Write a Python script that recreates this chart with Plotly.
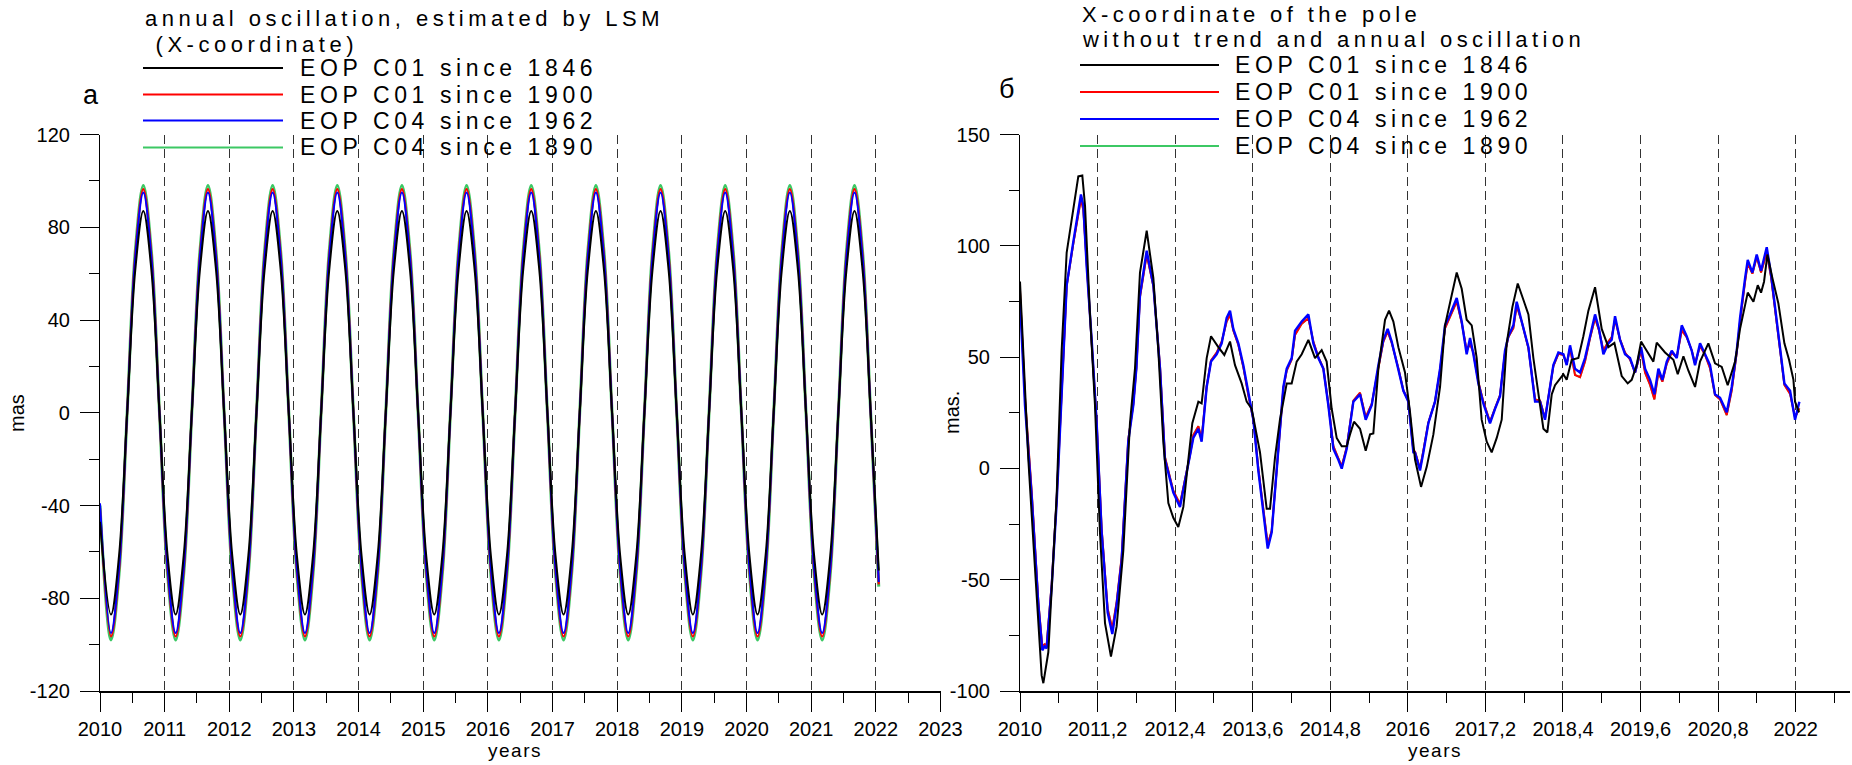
import plotly.graph_objects as go

W, H = 1852, 765

# ---------------- panel (а): annual oscillation, LSM fit ----------------
# sample times: start of 2010, then every 1/8 year starting at first trough
t_annual = [2010.0] + [round(2010.17 + 0.125 * k, 3) for k in range(96)]

annual_c01_1846 = [
    -47,
    -87, -61.5, 0, 61.5, 87, 61.5, 0, -61.5,
    -87, -61.5, 0, 61.5, 87, 61.5, 0, -61.5,
    -87, -61.5, 0, 61.5, 87, 61.5, 0, -61.5,
    -87, -61.5, 0, 61.5, 87, 61.5, 0, -61.5,
    -87, -61.5, 0, 61.5, 87, 61.5, 0, -61.5,
    -87, -61.5, 0, 61.5, 87, 61.5, 0, -61.5,
    -87, -61.5, 0, 61.5, 87, 61.5, 0, -61.5,
    -87, -61.5, 0, 61.5, 87, 61.5, 0, -61.5,
    -87, -61.5, 0, 61.5, 87, 61.5, 0, -61.5,
    -87, -61.5, 0, 61.5, 87, 61.5, 0, -61.5,
    -87, -61.5, 0, 61.5, 87, 61.5, 0, -61.5,
    -87, -61.5, 0, 61.5, 87, 61.5, 0, -68,
]
annual_c01_1900 = [
    -41,
    -96.5, -68, 0, 68, 96.5, 68, 0, -68,
    -96.5, -68, 0, 68, 96.5, 68, 0, -68,
    -96.5, -68, 0, 68, 96.5, 68, 0, -68,
    -96.5, -68, 0, 68, 96.5, 68, 0, -68,
    -96.5, -68, 0, 68, 96.5, 68, 0, -68,
    -96.5, -68, 0, 68, 96.5, 68, 0, -68,
    -96.5, -68, 0, 68, 96.5, 68, 0, -68,
    -96.5, -68, 0, 68, 96.5, 68, 0, -68,
    -96.5, -68, 0, 68, 96.5, 68, 0, -68,
    -96.5, -68, 0, 68, 96.5, 68, 0, -68,
    -96.5, -68, 0, 68, 96.5, 68, 0, -68,
    -96.5, -68, 0, 68, 96.5, 68, 0, -74,
]
annual_c04_1962 = [
    -39,
    -95, -67, 0, 67, 95, 67, 0, -67,
    -95, -67, 0, 67, 95, 67, 0, -67,
    -95, -67, 0, 67, 95, 67, 0, -67,
    -95, -67, 0, 67, 95, 67, 0, -67,
    -95, -67, 0, 67, 95, 67, 0, -67,
    -95, -67, 0, 67, 95, 67, 0, -67,
    -95, -67, 0, 67, 95, 67, 0, -67,
    -95, -67, 0, 67, 95, 67, 0, -67,
    -95, -67, 0, 67, 95, 67, 0, -67,
    -95, -67, 0, 67, 95, 67, 0, -67,
    -95, -67, 0, 67, 95, 67, 0, -67,
    -95, -67, 0, 67, 95, 67, 0, -73,
]
annual_c04_1890 = [
    -40,
    -98, -69.5, 0, 69.5, 98, 69.5, 0, -69.5,
    -98, -69.5, 0, 69.5, 98, 69.5, 0, -69.5,
    -98, -69.5, 0, 69.5, 98, 69.5, 0, -69.5,
    -98, -69.5, 0, 69.5, 98, 69.5, 0, -69.5,
    -98, -69.5, 0, 69.5, 98, 69.5, 0, -69.5,
    -98, -69.5, 0, 69.5, 98, 69.5, 0, -69.5,
    -98, -69.5, 0, 69.5, 98, 69.5, 0, -69.5,
    -98, -69.5, 0, 69.5, 98, 69.5, 0, -69.5,
    -98, -69.5, 0, 69.5, 98, 69.5, 0, -69.5,
    -98, -69.5, 0, 69.5, 98, 69.5, 0, -69.5,
    -98, -69.5, 0, 69.5, 98, 69.5, 0, -69.5,
    -98, -69.5, 0, 69.5, 98, 69.5, 0, -75,
]

# ---------------- panel (б): residual X-coordinate ----------------
t_res_c01_1846 = [
    2010.0, 2010.129, 2010.232, 2010.335, 2010.361, 2010.438, 2010.567, 2010.644, 2010.722, 2010.81,
    2010.902, 2010.964, 2011.006, 2011.083, 2011.16, 2011.237, 2011.315, 2011.407, 2011.495, 2011.598,
    2011.701, 2011.779, 2011.856, 2011.96, 2012.063, 2012.14, 2012.217, 2012.295, 2012.372, 2012.449,
    2012.527, 2012.604, 2012.666, 2012.759, 2012.81, 2012.888, 2012.955, 2013.068, 2013.161, 2013.249,
    2013.326, 2013.429, 2013.507, 2013.584, 2013.713, 2013.816, 2013.868, 2013.945, 2014.022, 2014.126,
    2014.203, 2014.28, 2014.358, 2014.461, 2014.564, 2014.667, 2014.744, 2014.822, 2014.899, 2014.977,
    2015.054, 2015.105, 2015.167, 2015.26, 2015.348, 2015.415, 2015.466, 2015.544, 2015.647, 2015.709,
    2015.776, 2015.853, 2015.956, 2016.034, 2016.111, 2016.204, 2016.292, 2016.395, 2016.498, 2016.575,
    2016.678, 2016.756, 2016.833, 2016.91, 2016.988, 2017.065, 2017.142, 2017.22, 2017.297, 2017.375,
    2017.452, 2017.529, 2017.617, 2017.7, 2017.787, 2017.865, 2017.942, 2018.019, 2018.097, 2018.158,
    2018.226, 2018.277, 2018.406, 2018.457, 2018.535, 2018.638, 2018.715, 2018.793, 2018.896, 2018.999,
    2019.102, 2019.195, 2019.308, 2019.401, 2019.463, 2019.54, 2019.608, 2019.695, 2019.798, 2019.85,
    2019.979, 2020.108, 2020.175, 2020.263, 2020.34, 2020.443, 2020.52, 2020.649, 2020.752, 2020.856,
    2020.948, 2021.062, 2021.139, 2021.258, 2021.346, 2021.413, 2021.464, 2021.51, 2021.562, 2021.64,
    2021.732, 2021.825, 2021.897, 2021.965, 2021.99, 2022.052,
]
res_c01_1846 = [
    84, 4, -45, -93, -96.5, -82.6, -12.4, 52.9, 97, 113,
    131.2, 131.6, 118, 69.2, 28.4, -28.7, -69.5, -84.5, -71, -36.9,
    20.3, 45, 88, 106.8, 85.5, 52.9, 12, -15.6, -22.2, -26.3,
    -17.3, 3.9, 20.3, 30, 29.2, 49.6, 59.4, 54.5, 51, 57,
    46.4, 38.2, 30, 26.8, 7.2, -18.1, -18.1, 5, 22, 38.2,
    38.2, 48, 51.3, 57.8, 49.6, 53.2, 48, 26.8, 13.7, 10,
    10, 15.3, 21, 17.8, 8, 15.3, 15.7, 44.8, 66.8, 70.9,
    66, 54.5, 43.1, 25.2, 4, -8.3, 0.7, 15.3, 36.6, 64.3,
    77.4, 88, 80.7, 66.8, 64.3, 49.6, 21.9, 12, 7.2, 13.7,
    21.9, 56.2, 72.5, 83.1, 75.8, 69.2, 49.6, 33.3, 17.8, 16.2,
    33.3, 37.4, 42.3, 39.8, 48.8, 49.6, 59.4, 70.9, 81.4, 62.7,
    54.5, 56.4, 41.5, 38.2, 39.8, 46.4, 57, 52.9, 48, 56.5,
    52.1, 48.8, 42.3, 50.4, 43.9, 36.6, 48, 56.2, 47.2, 45.6,
    37.4, 48, 62.7, 79, 74.9, 82.3, 79, 83.9, 96.1, 85.5,
    74.1, 56.2, 48.8, 39.8, 30, 25.2,
]

t_res_c04 = [
    2010.0, 2010.077, 2010.18, 2010.284, 2010.345, 2010.38, 2010.412, 2010.49, 2010.567, 2010.644,
    2010.722, 2010.825, 2010.902, 2010.943, 2010.98, 2011.032, 2011.109, 2011.186, 2011.263, 2011.356,
    2011.428, 2011.495, 2011.572, 2011.675, 2011.753, 2011.8, 2011.856, 2011.96, 2012.063, 2012.166,
    2012.243, 2012.295, 2012.372, 2012.475, 2012.553, 2012.63, 2012.681, 2012.759, 2012.81, 2012.888,
    2012.955, 2013.042, 2013.12, 2013.197, 2013.249, 2013.3, 2013.378, 2013.455, 2013.532, 2013.61,
    2013.687, 2013.765, 2013.832, 2013.894, 2013.945, 2013.997, 2014.074, 2014.126, 2014.203, 2014.255,
    2014.358, 2014.461, 2014.538, 2014.616, 2014.693, 2014.77, 2014.848, 2014.925, 2014.977, 2015.054,
    2015.157, 2015.26, 2015.348, 2015.441, 2015.544, 2015.621, 2015.688, 2015.75, 2015.853, 2015.931,
    2016.008, 2016.085, 2016.111, 2016.188, 2016.24, 2016.317, 2016.42, 2016.498, 2016.575, 2016.653,
    2016.756, 2016.833, 2016.91, 2016.962, 2017.014, 2017.091, 2017.168, 2017.271, 2017.349, 2017.426,
    2017.503, 2017.555, 2017.632, 2017.684, 2017.761, 2017.865, 2017.968, 2018.045, 2018.122, 2018.2,
    2018.251, 2018.329, 2018.406, 2018.457, 2018.509, 2018.586, 2018.664, 2018.741, 2018.818, 2018.896,
    2018.957, 2019.025, 2019.102, 2019.154, 2019.205, 2019.282, 2019.36, 2019.437, 2019.515, 2019.608,
    2019.67, 2019.747, 2019.814, 2019.876, 2019.938, 2020.005, 2020.082, 2020.16, 2020.237, 2020.314,
    2020.392, 2020.443, 2020.52, 2020.598, 2020.675, 2020.752, 2020.83, 2020.933, 2021.01, 2021.088,
    2021.139, 2021.217, 2021.258, 2021.33, 2021.397, 2021.464, 2021.552, 2021.619, 2021.681, 2021.758,
    2021.825, 2021.913, 2021.99, 2022.057,
]
res_c04_1962 = [
    76, 28.4, -12.4, -61.4, -81.7, -80, -80.9, -53.2, -15.6, 36.6,
    82.3, 101.9, 114.9, 123.1, 118, 90.4, 57.8, 20.3, -28.7, -64.6,
    -74.4, -61.4, -41.8, 12.2, 28.4, 45, 78, 97.8, 82.3, 44.8,
    3.9, -2.6, -10.8, -17.3, -5.9, 5.5, 13.7, 17.8, 12, 36.6,
    48, 51.3, 56.2, 67.6, 70.9, 62.7, 56.2, 46.4, 33.3, 21.9,
    -1, -20.5, -36, -28.7, -10, 8.8, 36.6, 44.8, 49.6, 61.9,
    66, 69.2, 56.2, 49.6, 44.8, 28.4, 8.8, 3.9, -0.1, 8.8,
    30, 33.3, 21.9, 28.4, 46.4, 57.8, 62.7, 57, 44.8, 34.9,
    30, 7.2, 7, -0.9, 7.2, 20.3, 30, 44.8, 64.3, 69.2,
    76.6, 66, 51.3, 58.6, 51.3, 38.2, 29.2, 20.3, 26.8, 32.5,
    52.9, 59.4, 64.3, 74.9, 66, 54.5, 30, 30, 21.9, 36.6,
    46.4, 52.1, 51.3, 46.4, 55.3, 44.8, 43.1, 49.6, 59.4, 69.2,
    62.7, 51.3, 56.2, 57.8, 68.4, 57.8, 51.3, 49.6, 43.1, 54.5,
    44.8, 39.8, 33.3, 44.8, 39.8, 48, 52.9, 49.6, 64.3, 59.4,
    52.9, 46.4, 56.2, 51.3, 46.4, 33.3, 31.7, 25.2, 36.6, 52.9,
    67.6, 85.5, 93.7, 88, 96.1, 88.8, 99.4, 87.2, 72.5, 56.2,
    38.2, 34.9, 21.9, 30,
]
res_c01_1900 = [
    80, 32, -10, -60, -80, -79, -79.5, -52, -14, 37,
    82, 101, 113, 121, 116, 91, 59, 21, -27, -63,
    -72, -60, -40, 13, 29, 45, 77, 96, 82, 46,
    5, -1.5, -10, -16, -5, 6, 15, 19, 13.5, 37,
    48.5, 52, 57, 66, 69, 62, 55.5, 45.5, 33, 22,
    0, -19, -34, -28, -9, 9, 36, 44, 49, 60,
    65, 67.5, 57, 50, 45, 29, 10, 4.5, 1, 9.5,
    30.5, 34, 23, 29, 46, 57, 61.5, 56.5, 45, 35,
    30.5, 8, 7.5, 0, 8, 20.5, 30, 44, 63, 68,
    75, 65.5, 53, 56, 52, 39, 30, 21, 27, 33,
    52, 59, 63, 73, 66, 54, 31, 30.5, 22.5, 36,
    46, 51.5, 51, 47, 54, 42, 41, 48, 58.5, 67.5,
    62, 53, 57, 59, 67, 58, 52, 49, 43, 53,
    43, 37.5, 31, 43, 39, 47, 52, 50, 62, 59,
    53, 47, 55, 51, 45, 33, 31, 24, 35, 52,
    66, 84, 92, 87.5, 95, 88, 97, 86, 72, 55,
    37.5, 33.5, 23, 27,
]
res_c04_1890 = res_c01_1900

# ---------------- labels ----------------
years_a = list(range(2010, 2024))
years_a_text = [str(y) for y in years_a]
ticks_b = [2010, 2011.2, 2012.4, 2013.6, 2014.8, 2016, 2017.2, 2018.4, 2019.6, 2020.8, 2022]
ticks_b_text = ["2010", "2011,2", "2012,4", "2013,6", "2014,8", "2016",
                "2017,2", "2018,4", "2019,6", "2020,8", "2022"]
yticks_a = [-120, -80, -40, 0, 40, 80, 120]
yticks_a_text = ["-120", "-80", "-40", "0", "40", "80", "120"]
yticks_b = [-100, -50, 0, 50, 100, 150]
yticks_b_text = ["-100", "-50", "0", "50", "100", "150"]
series_names = ["EOP C01 since 1846", "EOP C01 since 1900", "EOP C04 since 1962", "EOP C04 since 1890"]
series_colors = ["#000000", "#ff0000", "#0000ff", "#3cc864"]
title_a = ["annual oscillation, estimated by LSM", " (X-coordinate)"]
title_b = ["X-coordinate of the pole", "without trend and annual oscillation"]

FONT = "Liberation Sans, Arial, Helvetica, sans-serif"


def px(x):
    return x / W


def py(y):
    return 1 - y / H


fig = go.Figure()

# panel а traces (green at bottom, black on top)
for vals, name, col, wd in [
    (annual_c04_1890, series_names[3], series_colors[3], 3.0),
    (annual_c01_1900, series_names[1], series_colors[1], 2.2),
    (annual_c04_1962, series_names[2], series_colors[2], 2.0),
    (annual_c01_1846, series_names[0], series_colors[0], 2.0),
]:
    fig.add_trace(go.Scatter(x=t_annual, y=vals, mode="lines", name=name, showlegend=False,
                             line=dict(color=col, width=wd, shape="spline", smoothing=1.0),
                             xaxis="x", yaxis="y", hoverinfo="skip"))

# panel б traces
fig.add_trace(go.Scatter(x=t_res_c04, y=res_c04_1890, mode="lines", name=series_names[3], showlegend=False,
                         line=dict(color=series_colors[3], width=1.8), xaxis="x2", yaxis="y2", hoverinfo="skip"))
fig.add_trace(go.Scatter(x=t_res_c04, y=res_c01_1900, mode="lines", name=series_names[1], showlegend=False,
                         line=dict(color=series_colors[1], width=2.0), xaxis="x2", yaxis="y2", hoverinfo="skip"))
fig.add_trace(go.Scatter(x=t_res_c04, y=res_c04_1962, mode="lines", name=series_names[2], showlegend=False,
                         line=dict(color=series_colors[2], width=2.4), xaxis="x2", yaxis="y2", hoverinfo="skip"))
fig.add_trace(go.Scatter(x=t_res_c01_1846, y=res_c01_1846, mode="lines", name=series_names[0], showlegend=False,
                         line=dict(color=series_colors[0], width=2.0), xaxis="x2", yaxis="y2", hoverinfo="skip"))

ydom = [py(691), py(134.6)]
tickfont = dict(family=FONT, size=20, color="black")
common_x = dict(ticks="outside", ticklen=19, tickwidth=1.2, tickcolor="black",
                showline=True, linecolor="black", linewidth=1.5, zeroline=False,
                showgrid=True, gridcolor="#333333", gridwidth=1.3, griddash="9px,5px",
                tickfont=tickfont, tickmode="array", fixedrange=True, automargin=False)
common_y = dict(ticks="outside", ticklen=19, tickwidth=1.2, tickcolor="black",
                showline=True, linecolor="black", linewidth=1.2, zeroline=False,
                showgrid=False, tickfont=tickfont, ticklabelstandoff=6, fixedrange=True,
                tickmode="array", automargin=False)

fig.update_layout(
    width=W, height=H, autosize=False,
    margin=dict(l=0, r=0, t=0, b=0, pad=0, autoexpand=False),
    paper_bgcolor="white", plot_bgcolor="white",
    showlegend=False,
    xaxis=dict(domain=[px(100), px(940.5)], range=[2010, 2023], anchor="y",
               tickvals=years_a, ticktext=years_a_text,
               minor=dict(dtick=0.5, tick0=2010, ticks="outside", ticklen=10, tickcolor="black",
                          tickwidth=1.2, showgrid=False),
               **common_x),
    yaxis=dict(domain=ydom, range=[-120, 120], anchor="x",
               tickvals=yticks_a, ticktext=yticks_a_text,
               minor=dict(dtick=20, tick0=-120, ticks="outside", ticklen=10, tickcolor="black",
                          tickwidth=1.2, showgrid=False),
               **common_y),
    xaxis2=dict(domain=[px(1020), px(1850)], range=[2010, 2022.84], anchor="y2",
                tickvals=ticks_b, ticktext=ticks_b_text,
                minor=dict(dtick=0.6, tick0=2010, ticks="outside", ticklen=10, tickcolor="black",
                           tickwidth=1.2, showgrid=False),
                **common_x),
    yaxis2=dict(domain=ydom, range=[-100, 150], anchor="x2",
                tickvals=yticks_b, ticktext=yticks_b_text,
                minor=dict(dtick=25, tick0=-100, ticks="outside", ticklen=10, tickcolor="black",
                           tickwidth=1.2, showgrid=False),
                **common_y),
)

ann = []
shapes = []


def add_text(x, y, text, size=22, xanchor="left", angle=0, spacing=0.0):
    if spacing:
        text = '<span style="letter-spacing:%.1fpx">%s</span>' % (spacing, text)
    ann.append(dict(x=px(x), y=py(y), xref="paper", yref="paper", text=text, showarrow=False,
                    xanchor=xanchor, yanchor="middle", textangle=angle,
                    font=dict(family=FONT, size=size, color="black")))


# titles
add_text(143, 18, title_a[0], size=22, spacing=4.5)
add_text(143, 44, title_a[1], size=22, spacing=4.5)
add_text(1080, 14, title_b[0], size=22, spacing=4.4)
add_text(1080, 39, title_b[1], size=22, spacing=4.4)

# manual legends
for rows, x0, x1, xt in [([68, 94.5, 120.5, 147.5], 143, 283, 298),
                         ([65, 92, 119, 146], 1080, 1219, 1233)]:
    for i, yy in enumerate(rows):
        shapes.append(dict(type="line", xref="paper", yref="paper", x0=px(x0), x1=px(x1),
                           y0=py(yy), y1=py(yy),
                           line=dict(color=series_colors[i], width=2.2)))
        add_text(xt, yy, series_names[i], size=23, spacing=4.6)

# panel letters
add_text(91, 95, "а", size=27, xanchor="center")
add_text(1007, 89, "б", size=27, xanchor="center")

# axis titles
add_text(515, 750, "years", size=19, xanchor="center", spacing=1.5)
add_text(1435, 750, "years", size=19, xanchor="center", spacing=1.5)
add_text(17, 413, "mas", size=20, xanchor="center", angle=-90)
add_text(952, 413, "mas.", size=20, xanchor="center", angle=-90)

fig.update_layout(annotations=ann, shapes=shapes)

fig.write_html("out.html")
